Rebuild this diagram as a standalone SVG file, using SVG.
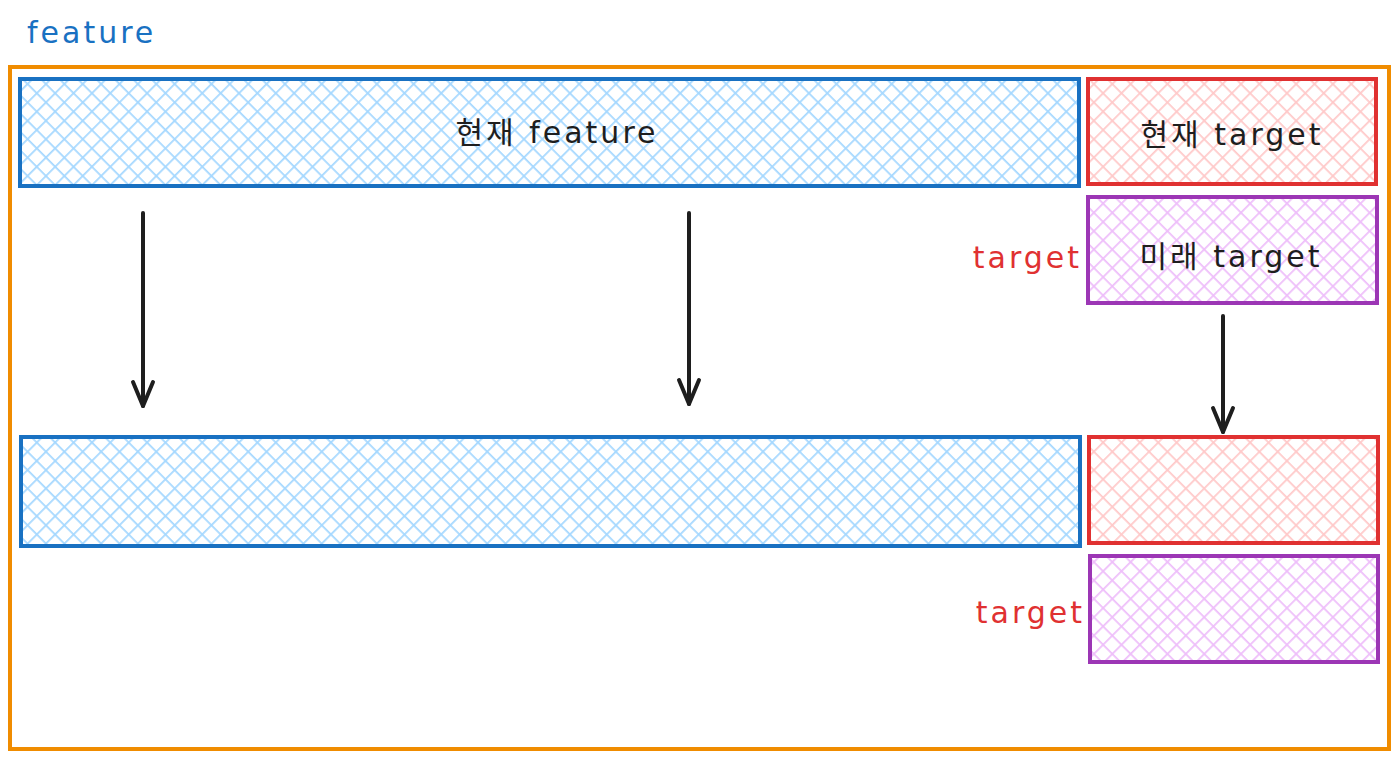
<svg xmlns="http://www.w3.org/2000/svg" width="1399" height="760" viewBox="0 0 1399 760">
<style>
text{font-family:"DejaVu Sans","Noto Sans CJK KR",sans-serif;font-size:30px;letter-spacing:3px;}
.lbl{fill:#1e1e1e;text-anchor:middle;dominant-baseline:central;}
.red{fill:#e03131;}
.blueBox{stroke:#1971c2;stroke-width:4;fill:url(#hb);}
.redBox{stroke:#e03131;stroke-width:4;fill:url(#hr);}
.purBox{stroke:#9c36b5;stroke-width:4;fill:url(#hp);}
.conn{stroke:#1e1e1e;stroke-width:4;stroke-linecap:round;fill:none;marker-end:url(#ah);}
</style>
<defs>
<pattern id="hb" width="13" height="13" patternUnits="userSpaceOnUse" patternTransform="rotate(45)">
<rect width="13" height="13" fill="#fff"/>
<line x1="0" y1="0" x2="0" y2="13" stroke="#a5d8ff" stroke-width="3.5"/>
<line x1="0" y1="0" x2="13" y2="0" stroke="#a5d8ff" stroke-width="3.5"/>
</pattern>
<pattern id="hr" width="13" height="13" patternUnits="userSpaceOnUse" patternTransform="rotate(45)">
<rect width="13" height="13" fill="#fff"/>
<line x1="0" y1="0" x2="0" y2="13" stroke="#ffc9c9" stroke-width="3.5"/>
<line x1="0" y1="0" x2="13" y2="0" stroke="#ffc9c9" stroke-width="3.5"/>
</pattern>
<pattern id="hp" width="13" height="13" patternUnits="userSpaceOnUse" patternTransform="rotate(45)">
<rect width="13" height="13" fill="#fff"/>
<line x1="0" y1="0" x2="0" y2="13" stroke="#eebefa" stroke-width="3.5"/>
<line x1="0" y1="0" x2="13" y2="0" stroke="#eebefa" stroke-width="3.5"/>
</pattern>
<marker id="ah" markerWidth="30" markerHeight="26" refX="27" refY="13" orient="auto" markerUnits="userSpaceOnUse" viewBox="0 0 30 26">
<path d="M3 3 L27 13 L3 23" fill="none" stroke="#1e1e1e" stroke-width="4" stroke-linecap="round" stroke-linejoin="round"/>
</marker>
</defs>
<rect width="1399" height="760" fill="#fff"/>
<g id="frame">
<rect x="10" y="67" width="1379" height="682" fill="none" stroke="#f08c00" stroke-width="4"/>
<text x="27" y="43" fill="#1971c2">feature</text>
</g>
<g id="cur-feature">
<rect class="blueBox" x="20" y="79" width="1059" height="107"/>
<text class="lbl" x="557" y="132">현재 feature</text>
</g>
<g id="cur-target">
<rect class="redBox" x="1088" y="79" width="288" height="105"/>
<text class="lbl" x="1232" y="134">현재 target</text>
</g>
<g id="fut-target">
<rect class="purBox" x="1088" y="197" width="289" height="106"/>
<text class="lbl" x="1231" y="256">미래 target</text>
<text class="red" x="1082" y="257" text-anchor="end" dominant-baseline="central">target</text>
</g>
<g id="next-feature">
<rect class="blueBox" x="21" y="437" width="1059" height="109"/>
</g>
<g id="next-target">
<rect class="redBox" x="1089" y="437" width="289" height="106"/>
</g>
<g id="next-fut-target">
<rect class="purBox" x="1090" y="556" width="288" height="106"/>
<text class="red" x="1085" y="612" text-anchor="end" dominant-baseline="central">target</text>
</g>
<g id="connectors">
<line class="conn" x1="143" y1="213" x2="143" y2="406"/>
<line class="conn" x1="689" y1="213" x2="689" y2="404"/>
<line class="conn" x1="1223" y1="316" x2="1223" y2="432"/>
</g>
</svg>
